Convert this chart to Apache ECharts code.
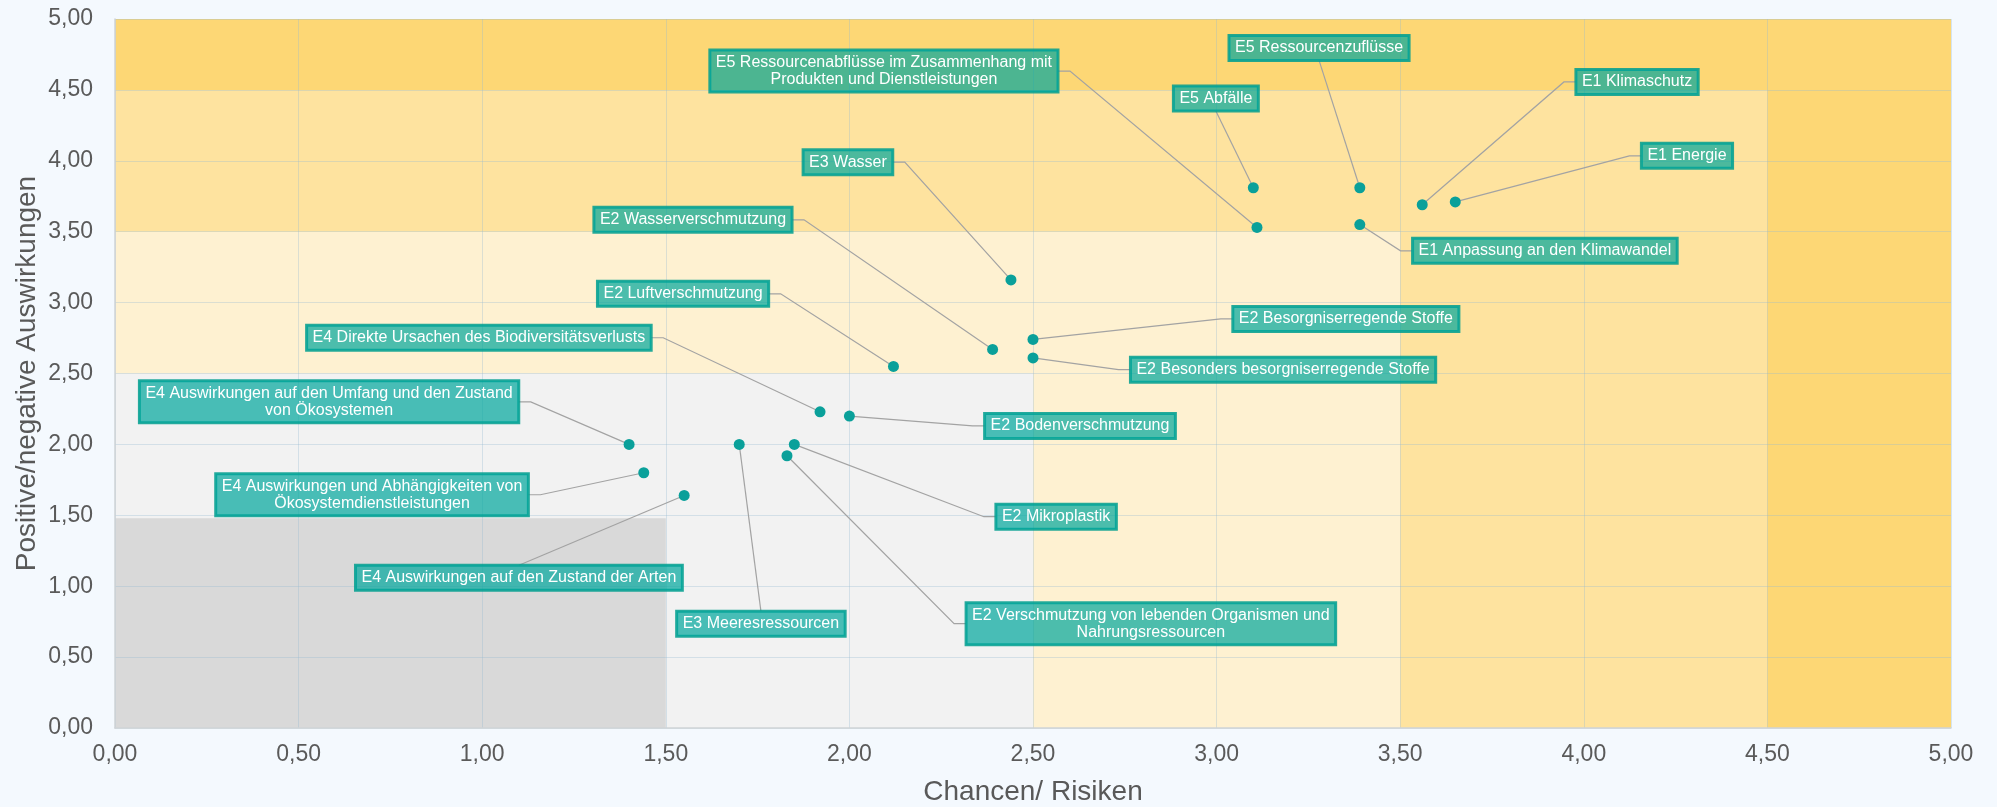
<!DOCTYPE html>
<html>
<head>
<meta charset="utf-8">
<script src="https://cdn.jsdelivr.net/npm/echarts@6/dist/echarts.min.js"></script>
<style>
html,body{margin:0;padding:0;background:#f4f9fe;}
#c{width:1997px;height:807px;}
</style>
</head>
<body>
<div id="c"></div>
<script>
// ---- data ----
const topics = [
  'E4 Auswirkungen auf den Umfang und den Zustand\nvon Ökosystemen',
  'E4 Auswirkungen und Abhängigkeiten von\nÖkosystemdienstleistungen',
  'E4 Auswirkungen auf den Zustand der Arten',
  'E3 Meeresressourcen',
  'E2 Mikroplastik',
  'E2 Verschmutzung von lebenden Organismen und\nNahrungsressourcen',
  'E4 Direkte Ursachen des Biodiversitätsverlusts',
  'E2 Bodenverschmutzung',
  'E2 Luftverschmutzung',
  'E2 Wasserverschmutzung',
  'E2 Besorgniserregende Stoffe',
  'E2 Besonders besorgniserregende Stoffe',
  'E3 Wasser',
  'E5 Abfälle',
  'E5 Ressourcenabflüsse im Zusammenhang mit\nProdukten und Dienstleistungen',
  'E5 Ressourcenzuflüsse',
  'E1 Anpassung an den Klimawandel',
  'E1 Klimaschutz',
  'E1 Energie'
];
const chancenRisiken = [1.40, 1.44, 1.55, 1.70, 1.85, 1.83, 1.92, 2.00, 2.12, 2.39, 2.50, 2.50, 2.44, 3.10, 3.11, 3.39, 3.39, 3.56, 3.65];
const auswirkungen   = [2.00, 1.80, 1.64, 2.00, 2.00, 1.92, 2.23, 2.20, 2.55, 2.67, 2.74, 2.61, 3.16, 3.81, 3.53, 3.81, 3.55, 3.69, 3.71];
// zone limits (both axes)
const zoneLimits = [5, 4.5, 3.5, 2.5, 1.5];
const zoneColors = ['#fdd775', '#fee39f', '#fef1d1', '#f2f2f2', '#d9d9d9'];

// ---- layout: label box centres (axis units) and leader-line side ----
const labelAt = [
  [0.583, 2.30], [0.700, 1.645], [1.100, 1.06], [1.759, 0.736], [2.563, 1.49],
  [2.821, 0.736], [0.991, 2.752], [2.628, 2.13], [1.547, 3.062], [1.574, 3.584],
  [3.352, 2.885], [3.181, 2.527], [1.996, 3.99], [2.998, 4.44], [2.094, 4.633],
  [3.279, 4.796], [3.894, 3.365], [4.145, 4.556], [4.281, 4.035]
];
const leaderSide = ['r', 'r', 't', 't', 'l', 'l', 'r', 'l', 'r', 'r', 'l', 'l', 'r', 'b', 'r', 'b', 'l', 'l', 'l'];

const fmt = v => v.toFixed(2).replace('.', ',');
const FONT = '"Liberation Sans", Arial, sans-serif';
const LABEL_FS = 16, LABEL_LH = 17, PAD_V = 4, PAD_H = 6;
const STUB = 12;

const chart = echarts.init(document.getElementById('c'), null, {renderer: 'canvas'});

// label box sizes (measured with the same font ECharts uses)
const measureCtx = document.createElement('canvas').getContext('2d');
measureCtx.font = LABEL_FS + 'px ' + FONT;
const labelSize = topics.map(t => {
  const lines = t.split('\n');
  const w = Math.max.apply(null, lines.map(l => measureCtx.measureText(l).width));
  return [w + 2 * PAD_H, lines.length * LABEL_LH + 2 * PAD_V];
});

const zoneAreas = zoneLimits.map((lim, i) => [
  {xAxis: 0, yAxis: 0, itemStyle: {color: zoneColors[i]}},
  {xAxis: lim, yAxis: i === zoneLimits.length - 1 ? lim - 0.02 : lim}
]);

const points = topics.map((t, i) => ({name: t, value: [chancenRisiken[i], auswirkungen[i]]}));

function axisCommon(nameText, isX) {
  return {
    type: 'value', min: 0, max: 5, interval: 0.5, z: 1.5,
    name: nameText, nameLocation: 'middle',
    nameGap: isX ? 50 : 74, nameMoveOverlap: false,
    nameTextStyle: {fontFamily: FONT, fontSize: 28, color: '#595959'},
    axisLine: {show: true, onZero: false, lineStyle: {color: '#cfd3d6', width: 1.5}},
    axisTick: {show: false},
    splitLine: {show: true, lineStyle: {color: 'rgba(150,185,210,0.33)', width: 1}},
    axisLabel: {
      formatter: fmt, fontFamily: FONT, fontSize: 23, color: '#5a5a5a',
      margin: isX ? 15 : 22, showMinLabel: true, showMaxLabel: true, hideOverlap: false
    }
  };
}

function renderLeader(params, api) {
  const i = params.dataIndex;
  const d = api.coord([api.value(0), api.value(1)]);
  const c = api.coord(labelAt[i]);
  const w = labelSize[i][0], h = labelSize[i][1];
  const s = leaderSide[i];
  let edge, stub;
  if (s === 'r') { edge = [c[0] + w / 2, c[1]]; stub = [edge[0] + STUB, c[1]]; }
  else if (s === 'l') { edge = [c[0] - w / 2, c[1]]; stub = [edge[0] - STUB, c[1]]; }
  else if (s === 't') { edge = [c[0], c[1] - h / 2]; stub = edge.slice(); }
  else { edge = [c[0], c[1] + h / 2]; stub = edge.slice(); }
  return {
    type: 'polyline',
    shape: {points: [d, stub, edge]},
    style: {stroke: '#a3a3a3', lineWidth: 1.2, fill: null},
    silent: true
  };
}

const option = {
  backgroundColor: '#f4f9fe',
  animation: false,
  grid: {left: 115, right: 46, top: 19, bottom: 79, containLabel: false, outerBoundsMode: 'none'},
  xAxis: axisCommon('Chancen/ Risiken', true),
  yAxis: axisCommon('Positive/negative Auswirkungen', false),
  series: [
    {
      type: 'scatter', z: 1, data: [], silent: true,
      markArea: {silent: true, data: zoneAreas, label: {show: false}}
    },
    {
      type: 'custom', z: 2, silent: true,
      data: points,
      encode: {x: 0, y: 1},
      renderItem: renderLeader
    },
    {
      type: 'scatter', z: 3,
      data: points,
      symbolSize: 11,
      itemStyle: {color: '#0aa09a', opacity: 1},
      label: {
        show: true,
        formatter: p => p.name,
        fontFamily: FONT, fontSize: LABEL_FS, lineHeight: LABEL_LH, color: '#ffffff',
        align: 'center', verticalAlign: 'middle',
        backgroundColor: 'rgba(0,166,156,0.70)',
        borderColor: 'rgba(0,158,142,0.85)', borderWidth: 1.5,
        padding: [PAD_V, PAD_H, PAD_V, PAD_H]
      },
      labelLine: {show: false},
      labelLayout: function (p) {
        let c;
        try { c = chart.convertToPixel({gridIndex: 0}, labelAt[p.dataIndex]); } catch (e) { c = null; }
        if (!c || isNaN(c[0])) return {};
        return {x: c[0], y: c[1], align: 'center', verticalAlign: 'middle'};
      }
    }
  ]
};

chart.setOption(option);
chart.setOption(option, true);
</script>
</body>
</html>
